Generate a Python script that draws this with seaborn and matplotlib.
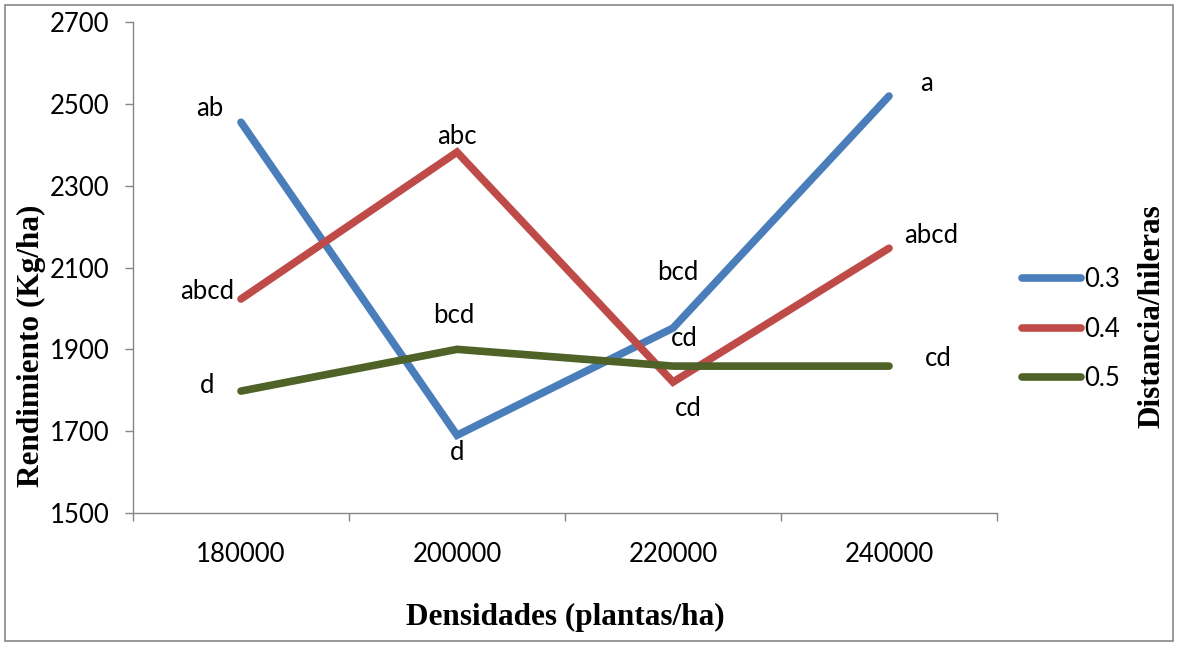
import matplotlib
matplotlib.use("Agg")
import matplotlib.pyplot as plt
import seaborn as sns
import pandas as pd
from matplotlib.patches import Rectangle

densidades = ["180000", "200000", "220000", "240000"]
distancias = ["0.3", "0.4", "0.5"]
rend_03 = [2455, 1690, 1952, 2519]
rend_04 = [2023, 2382, 1820, 2147]
rend_05 = [1798, 1900, 1859, 1859]
letras_03 = ["ab", "d", "bcd", "a"]
letras_04 = ["abcd", "abc", "cd", "abcd"]
letras_05 = ["d", "bcd", "cd", "cd"]
yticks = [1500, 1700, 1900, 2100, 2300, 2500, 2700]

colors = {"0.3": "#4A7EBB", "0.4": "#BE4B48", "0.5": "#4F6228"}

rows = []
for dist, vals in zip(distancias, [rend_03, rend_04, rend_05]):
    for i, v in enumerate(vals):
        rows.append({"x": i, "Densidad": densidades[i], "Distancia": dist, "Rendimiento": v})
df = pd.DataFrame(rows)

sns.set_theme(style="white")
plt.rcParams['font.family'] = ['Lato', 'DejaVu Sans']
plt.rcParams['text.color'] = 'black'
plt.rcParams['xtick.labelcolor'] = 'black'
plt.rcParams['ytick.labelcolor'] = 'black'

FS = 18.5
fig = plt.figure(figsize=(11.78, 6.46), dpi=100)
ax = fig.add_axes([133/1178, 1-513/646, (997-133)/1178, (513-22)/646])

sns.lineplot(data=df, x="x", y="Rendimiento", hue="Distancia", hue_order=distancias,
             palette=colors, linewidth=5.5, ax=ax, legend=True, sort=False)
for line in ax.get_lines():
    line.set_solid_capstyle("round")
    line.set_solid_joinstyle("miter")

ax.set_xlim(-0.5, 3.5)
ax.set_ylim(1500, 2700)
ax.set_yticks(yticks)
ax.set_yticklabels([str(t) for t in yticks], fontsize=FS)
ax.set_xticks(range(4))
ax.set_xticklabels(densidades, fontsize=FS)
ax.set_xticks([-0.5, 0.5, 1.5, 2.5, 3.5], minor=True)
ax.tick_params(axis="x", which="major", length=0, pad=21)
ax.tick_params(axis="x", which="minor", length=6, width=1, color="#868686", direction="out", bottom=True)
ax.tick_params(axis="y", which="major", length=6, width=1, color="#868686", direction="out", left=True, pad=11)

for s in ["top", "right"]:
    ax.spines[s].set_visible(False)
for s in ["left", "bottom"]:
    ax.spines[s].set_color("#868686")
    ax.spines[s].set_linewidth(1)

ax.set_xlabel("")
ax.set_ylabel("")

px = 72 / 100
offsets = {
    "0.3": [(-31, 14), (0, -17), (5, 56), (37, 13)],
    "0.4": [(-34, 8), (0, 16), (15, -26), (42, 13)],
    "0.5": [(-34, 6), (-3, 34), (11, 28), (49, 8)],
}
for dist, vals, labs in zip(distancias, [rend_03, rend_04, rend_05], [letras_03, letras_04, letras_05]):
    for i, (v, lab) in enumerate(zip(vals, labs)):
        dx, dy = offsets[dist][i]
        ax.annotate(lab, (i, v), xytext=(dx * px, dy * px), textcoords="offset points",
                    ha="center", va="center", fontsize=FS, color="black")

handles, labels = ax.get_legend_handles_labels()
ax.legend(handles, labels, loc="center left", bbox_to_anchor=(1012/1178, 1-329/646),
          bbox_transform=fig.transFigure, frameon=False, fontsize=FS,
          handlelength=2.3, handletextpad=0.1, labelspacing=0.95, borderaxespad=0)

TFS = 22.5
fig.text(565/1178, 1-617/646, "Densidades (plantas/ha)", family="Liberation Serif",
         fontweight="bold", fontsize=TFS, ha="center", va="center")
fig.text(31/1178, 1-346/646, "Rendimiento (Kg/ha)", family="Liberation Serif",
         fontweight="bold", fontsize=TFS, ha="center", va="center", rotation=90)
fig.text(1152/1178, 1-316/646, "Distancia/hileras", family="Liberation Serif",
         fontweight="bold", fontsize=TFS, ha="center", va="center", rotation=90)

fig.patches.append(Rectangle((5/1178, 5/646), 1168/1178, 636/646, transform=fig.transFigure,
                             fill=False, edgecolor="#868686", linewidth=1.2))

fig.savefig("out.png", dpi=100)
